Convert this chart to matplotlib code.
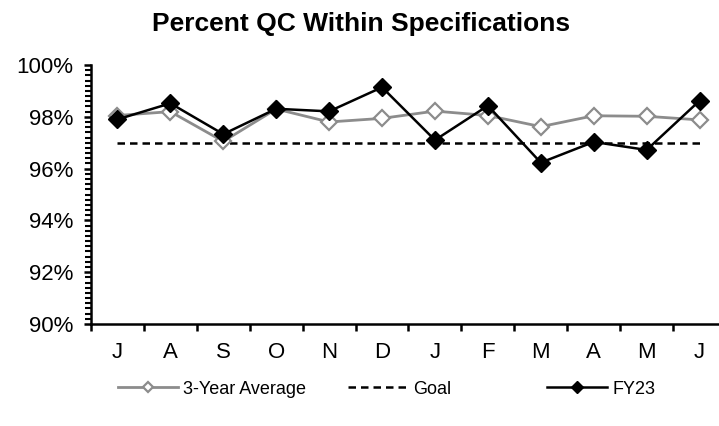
import matplotlib
matplotlib.use("Agg")
import matplotlib.pyplot as plt
from matplotlib.ticker import MultipleLocator, FixedLocator, FuncFormatter

plt.rcParams['font.family'] = ['Liberation Sans', 'DejaVu Sans']

months = ["J", "A", "S", "O", "N", "D", "J", "F", "M", "A", "M", "J"]
avg3 = [98.05, 98.2, 97.05, 98.3, 97.8, 97.94, 98.22, 98.05, 97.62, 98.04, 98.02, 97.88]
goal = [97.0] * 12
fy23 = [97.9, 98.52, 97.33, 98.31, 98.21, 99.14, 97.1, 98.43, 96.23, 97.03, 96.72, 98.62]

fig = plt.figure(figsize=(7.19, 4.26), dpi=100)
ax = fig.add_axes([91/719, 1 - 324/426, (726 - 91)/719, (324 - 65)/426])

x = list(range(len(months)))
h1, = ax.plot(x, avg3, color="#8c8c8c", lw=2, marker="D", ms=8, mfc="white",
              mec="#8c8c8c", mew=1.6, label="3-Year Average", zorder=3)
h2, = ax.plot(x, goal, color="black", lw=1.8, ls=(0, (3, 2)), label="Goal", zorder=2)
h3, = ax.plot(x, fy23, color="black", lw=1.8, marker="D", ms=9.5, mfc="black",
              mec="black", label="FY23", zorder=4)

ax.set_xlim(-0.5, 11.5)
ax.set_ylim(90, 100)
ax.yaxis.set_major_locator(MultipleLocator(2))
ax.yaxis.set_minor_locator(MultipleLocator(0.2))
ax.yaxis.set_major_formatter(FuncFormatter(lambda v, p: f"{v:.0f}%"))
ax.set_xticks(x)
ax.set_xticklabels(months)
ax.xaxis.set_minor_locator(FixedLocator([i - 0.5 for i in range(13)]))
ax.tick_params(axis='x', which='major', length=0, labelsize=16, pad=13)
ax.tick_params(axis='x', which='minor', length=5, width=1.8, direction='out')
ax.tick_params(axis='y', which='major', length=5, width=1.8, labelsize=16, pad=8)
ax.tick_params(axis='y', which='minor', length=4, width=1.5)

for s in ["top", "right"]:
    ax.spines[s].set_visible(False)
for s in ["left", "bottom"]:
    ax.spines[s].set_linewidth(1.8)

fig.text(361/719, 1 - 24/426, "Percent QC Within Specifications", ha="center",
         va="center", fontsize=19, fontweight="bold")

for h, xpos in [(h1, 118), (h2, 348), (h3, 547)]:
    fig.legend([h], [h.get_label()], loc="center left",
               bbox_to_anchor=(xpos/719, 1 - 389/426), frameon=False,
               fontsize=13, handlelength=3.3, handletextpad=0.3,
               markerscale=0.65, borderpad=0, borderaxespad=0)

fig.savefig("out.png", dpi=100)
